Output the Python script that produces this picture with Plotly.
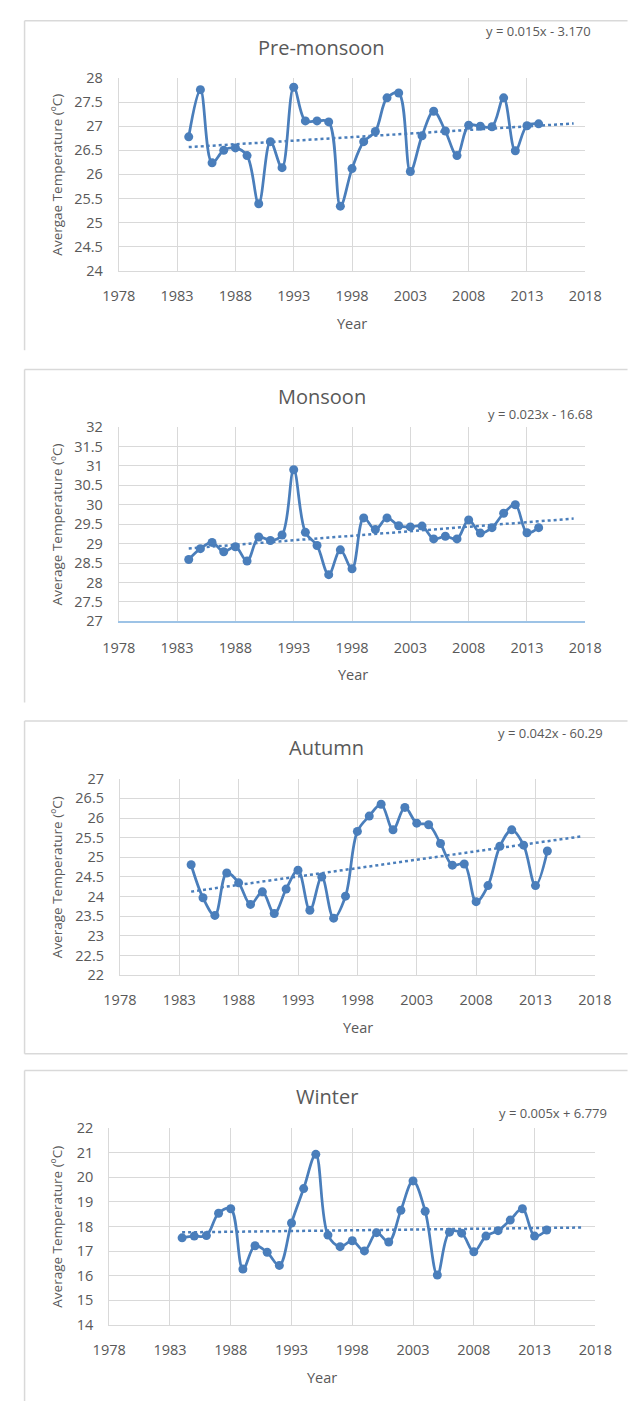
import numpy as np
import plotly.graph_objects as go

W, H = 636, 1407

years = list(range(1984, 2015))

pre_monsoon = [26.78, 27.76, 26.24, 26.50, 26.55, 26.39, 25.39, 26.68, 26.14, 27.81,
               27.11, 27.11, 27.09, 25.34, 26.12, 26.68, 26.89, 27.59, 27.69, 26.06,
               26.80, 27.31, 26.90, 26.39, 27.02, 27.00, 26.99, 27.59, 26.49, 27.01, 27.05]

monsoon = [28.59, 28.87, 29.03, 28.79, 28.92, 28.55, 29.17, 29.08, 29.22, 30.90,
           29.29, 28.95, 28.20, 28.84, 28.35, 29.66, 29.36, 29.66, 29.46, 29.43,
           29.45, 29.12, 29.19, 29.12, 29.61, 29.27, 29.41, 29.78, 30.00, 29.28, 29.41]

autumn = [24.81, 23.97, 23.52, 24.60, 24.35, 23.80, 24.12, 23.57, 24.19, 24.67,
          23.65, 24.50, 23.45, 24.01, 25.66, 26.05, 26.35, 25.70, 26.27, 25.87,
          25.83, 25.35, 24.80, 24.83, 23.87, 24.28, 25.28, 25.70, 25.31, 24.28, 25.16]

winter = [17.54, 17.61, 17.63, 18.54, 18.72, 16.27, 17.22, 16.95, 16.42, 18.14,
          19.54, 20.93, 17.65, 17.18, 17.42, 17.01, 17.75, 17.37, 18.66, 19.85,
          18.62, 16.03, 17.77, 17.73, 16.97, 17.61, 17.83, 18.26, 18.72, 17.61, 17.86]

titles = ["Pre-monsoon", "Monsoon", "Autumn", "Winter"]
equations = ["y = 0.015x - 3.170", "y = 0.023x - 16.68", "y = 0.042x - 60.29", "y = 0.005x + 6.779"]
ytitles = ["Avergae Temperature (ºC)", "Average Temperature (ºC)",
           "Average Temperature (ºC)", "Average Temperature (ºC)"]
xtitle = "Year"
series = [pre_monsoon, monsoon, autumn, winter]
y_ranges = [(24, 28), (27, 32), (22, 27), (14, 22)]
y_dticks = [0.5, 0.5, 0.5, 1]
x_range = (1978, 2018)
x_dtick = 5
forecast_forward = 3

# ---- layout (pixels) ----
plot_boxes = [  # x0, x1, ytop, ybottom
    (107.5, 600.4, 69.0, 264.3),
    (107.5, 600.4, 422.7, 619.7),
    (108.7, 610.5, 779.3, 978.3),
    (97.4, 611.0, 1133.3, 1333.0),
]
title_pos = [(321.7, 38.3), (322.5, 391.7), (327.4, 747.7), (327.8, 1101.7)]
eq_pos = [(608.3, 21.7), (610.5, 409.3), (620.7, 732.7), (625.0, 1117.7)]
year_pos = [(354.3, 317.3), (354.5, 673.3), (360.0, 1031.7), (322.5, 1386.7)]
ytitle_x = 42.5

BLUE = "#4a7ebb"
GRID = "#d9d9d9"
TXT = "#595959"
FONT = "Open Sans"


def px(x):
    return x / W


def py(y):
    return 1 - y / H


fig = go.Figure()
layout = dict(width=W, height=H, margin=dict(l=0, r=0, t=0, b=0),
              paper_bgcolor="white", plot_bgcolor="white", showlegend=False,
              font=dict(family=FONT, color=TXT))
annotations = []
shapes = []

for i, (vals, (x0, x1, yt, yb)) in enumerate(zip(series, plot_boxes)):
    n = "" if i == 0 else str(i + 1)
    xa, ya = "x" + n, "y" + n
    # smoothed data line
    fig.add_trace(go.Scatter(x=years, y=vals, mode="lines+markers", xaxis=xa, yaxis=ya,
                             line=dict(color=BLUE, width=2.75, shape="spline", smoothing=1.0),
                             marker=dict(color=BLUE, size=9), hoverinfo="skip"))
    # linear trend (least squares), forecast forward
    slope, intercept = np.polyfit(years, vals, 1)
    tx = np.array([years[0], years[-1] + forecast_forward])
    fig.add_trace(go.Scatter(x=tx, y=slope * tx + intercept, mode="lines", xaxis=xa, yaxis=ya,
                             line=dict(color=BLUE, width=2.5, dash="dot"), hoverinfo="skip"))

    layout["xaxis" + n] = dict(domain=[px(x0), px(x1)], anchor=ya, range=list(x_range),
                               tick0=x_range[0], dtick=x_dtick, showgrid=True, gridcolor=GRID,
                               gridwidth=1, showline=True,
                               linecolor=("#9dc3e6" if i == 1 else GRID),
                               linewidth=(2 if i == 1 else 1), zeroline=False, ticks="",
                               ticklabelstandoff=12,
                               tickfont=dict(family=FONT, size=14.5, color=TXT), fixedrange=True)
    layout["yaxis" + n] = dict(domain=[py(yb), py(yt)], anchor=xa, range=list(y_ranges[i]),
                               tick0=y_ranges[i][0], dtick=y_dticks[i], showgrid=True,
                               gridcolor=GRID, gridwidth=1, showline=True, linecolor=GRID,
                               linewidth=1, zeroline=False, ticks="", ticklabelstandoff=12,
                               tickfont=dict(family=FONT, size=14.5, color=TXT), fixedrange=True)

    annotations.append(dict(text=titles[i], xref="paper", yref="paper",
                            x=px(title_pos[i][0]), y=py(title_pos[i][1]),
                            xanchor="center", yanchor="middle", showarrow=False,
                            font=dict(family=FONT, size=20, color=TXT)))
    annotations.append(dict(text=equations[i], xref="paper", yref="paper",
                            x=px(eq_pos[i][0]), y=py(eq_pos[i][1]),
                            xanchor="right", yanchor="middle", showarrow=False,
                            font=dict(family=FONT, size=13, color=TXT)))
    annotations.append(dict(text=xtitle, xref="paper", yref="paper",
                            x=px(year_pos[i][0]), y=py(year_pos[i][1]),
                            xanchor="center", yanchor="middle", showarrow=False,
                            font=dict(family=FONT, size=14.5, color=TXT)))
    annotations.append(dict(text=ytitles[i], xref="paper", yref="paper",
                            x=px(ytitle_x), y=py((yt + yb) / 2), textangle=-90,
                            xanchor="center", yanchor="middle", showarrow=False,
                            font=dict(family=FONT, size=13.5, color=TXT)))

# panel frames (left / top edges, bottom where visible)
frames = [(11.0, 345.0, False), (364.3, 702.0, False), (720.7, 1058.0, True), (1075.0, 1410.0, False)]
for top, bottom, has_bottom in frames:
    shapes.append(dict(type="line", xref="paper", yref="paper", x0=px(8), x1=px(8),
                       y0=py(top), y1=py(bottom), line=dict(color=GRID, width=1.5)))
    shapes.append(dict(type="line", xref="paper", yref="paper", x0=px(8), x1=px(645),
                       y0=py(top), y1=py(top), line=dict(color=GRID, width=1.5)))
    if has_bottom:
        shapes.append(dict(type="line", xref="paper", yref="paper", x0=px(8), x1=px(645),
                           y0=py(bottom), y1=py(bottom), line=dict(color=GRID, width=1.5)))

layout["annotations"] = annotations
layout["shapes"] = shapes
fig.update_layout(**layout)
fig.write_html("out.html", config={"displayModeBar": False})
